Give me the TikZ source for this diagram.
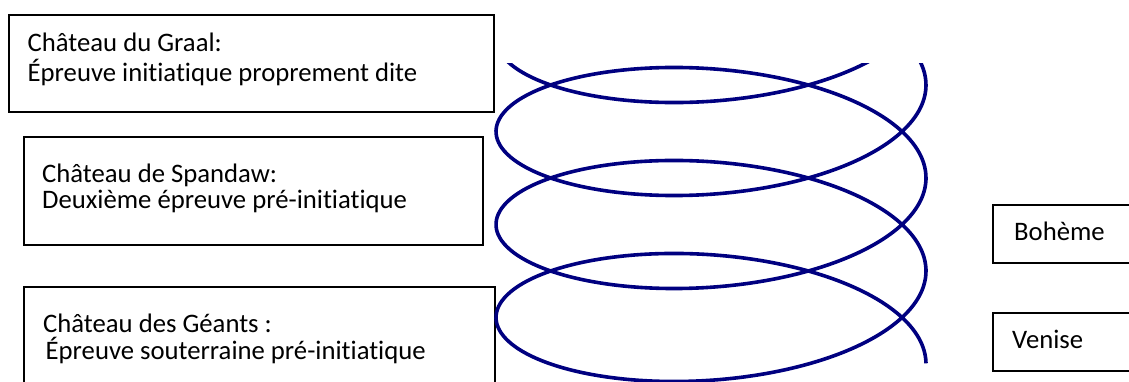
\documentclass[tikz,border=0pt]{standalone}
\usepackage{fontspec}
\setmainfont{Carlito}[Ligatures=NoCommon]
\definecolor{coilblue}{RGB}{0,0,128}
\begin{document}
\begin{tikzpicture}[x=1pt,y=-1pt,
  frame/.style={draw=black,line width=1.5pt,inner sep=0pt,anchor=north west},
  txt/.style={anchor=base west,inner sep=0pt,font=\fontsize{26.7}{30}\selectfont},
  coil/.style={draw=coilblue,line width=3.6pt}]
\useasboundingbox (0,0) rectangle (1129,381);
% boxes
\node[frame,minimum width=485pt,minimum height=97pt] (b1) at (8,14) {};
\node[frame,minimum width=459pt,minimum height=108pt] (b2) at (23,136) {};
\node[frame,minimum width=471pt,minimum height=120pt] (b3) at (23,286) {};
\node[frame,minimum width=160pt,minimum height=58pt] (b4) at (992,204) {};
\node[frame,minimum width=160pt,minimum height=58pt] (b5) at (992,312) {};
% texts
\node[txt] (t1a) at (27.5,51) {Château du Graal:};
\node[txt] (t1b) at (27.5,81) {Épreuve initiatique proprement dite};
\node[txt] (t2a) at (42,182) {Château de Spandaw:};
\node[txt] (t2b) at (42,208) {Deuxième épreuve pré-initiatique};
\node[txt] (t3a) at (43,332) {Château des Géants :};
\node[txt] (t3b) at (45.5,359) {Épreuve souterraine pré-initiatique};
\node[txt] (t4) at (1014,240) {Bohème};
\node[txt] (t5) at (1012,348) {Venise};
% coil
\begin{scope}
\clip (0,63) rectangle (1129,381);
\draw[coil] plot[domain=-2*pi:6*pi,samples=600,smooth,variable=\t]
  ({711+215*cos(\t r)},{85+14.8*\t+86*sin(\t r)});
\end{scope}
\end{tikzpicture}
\end{document}
